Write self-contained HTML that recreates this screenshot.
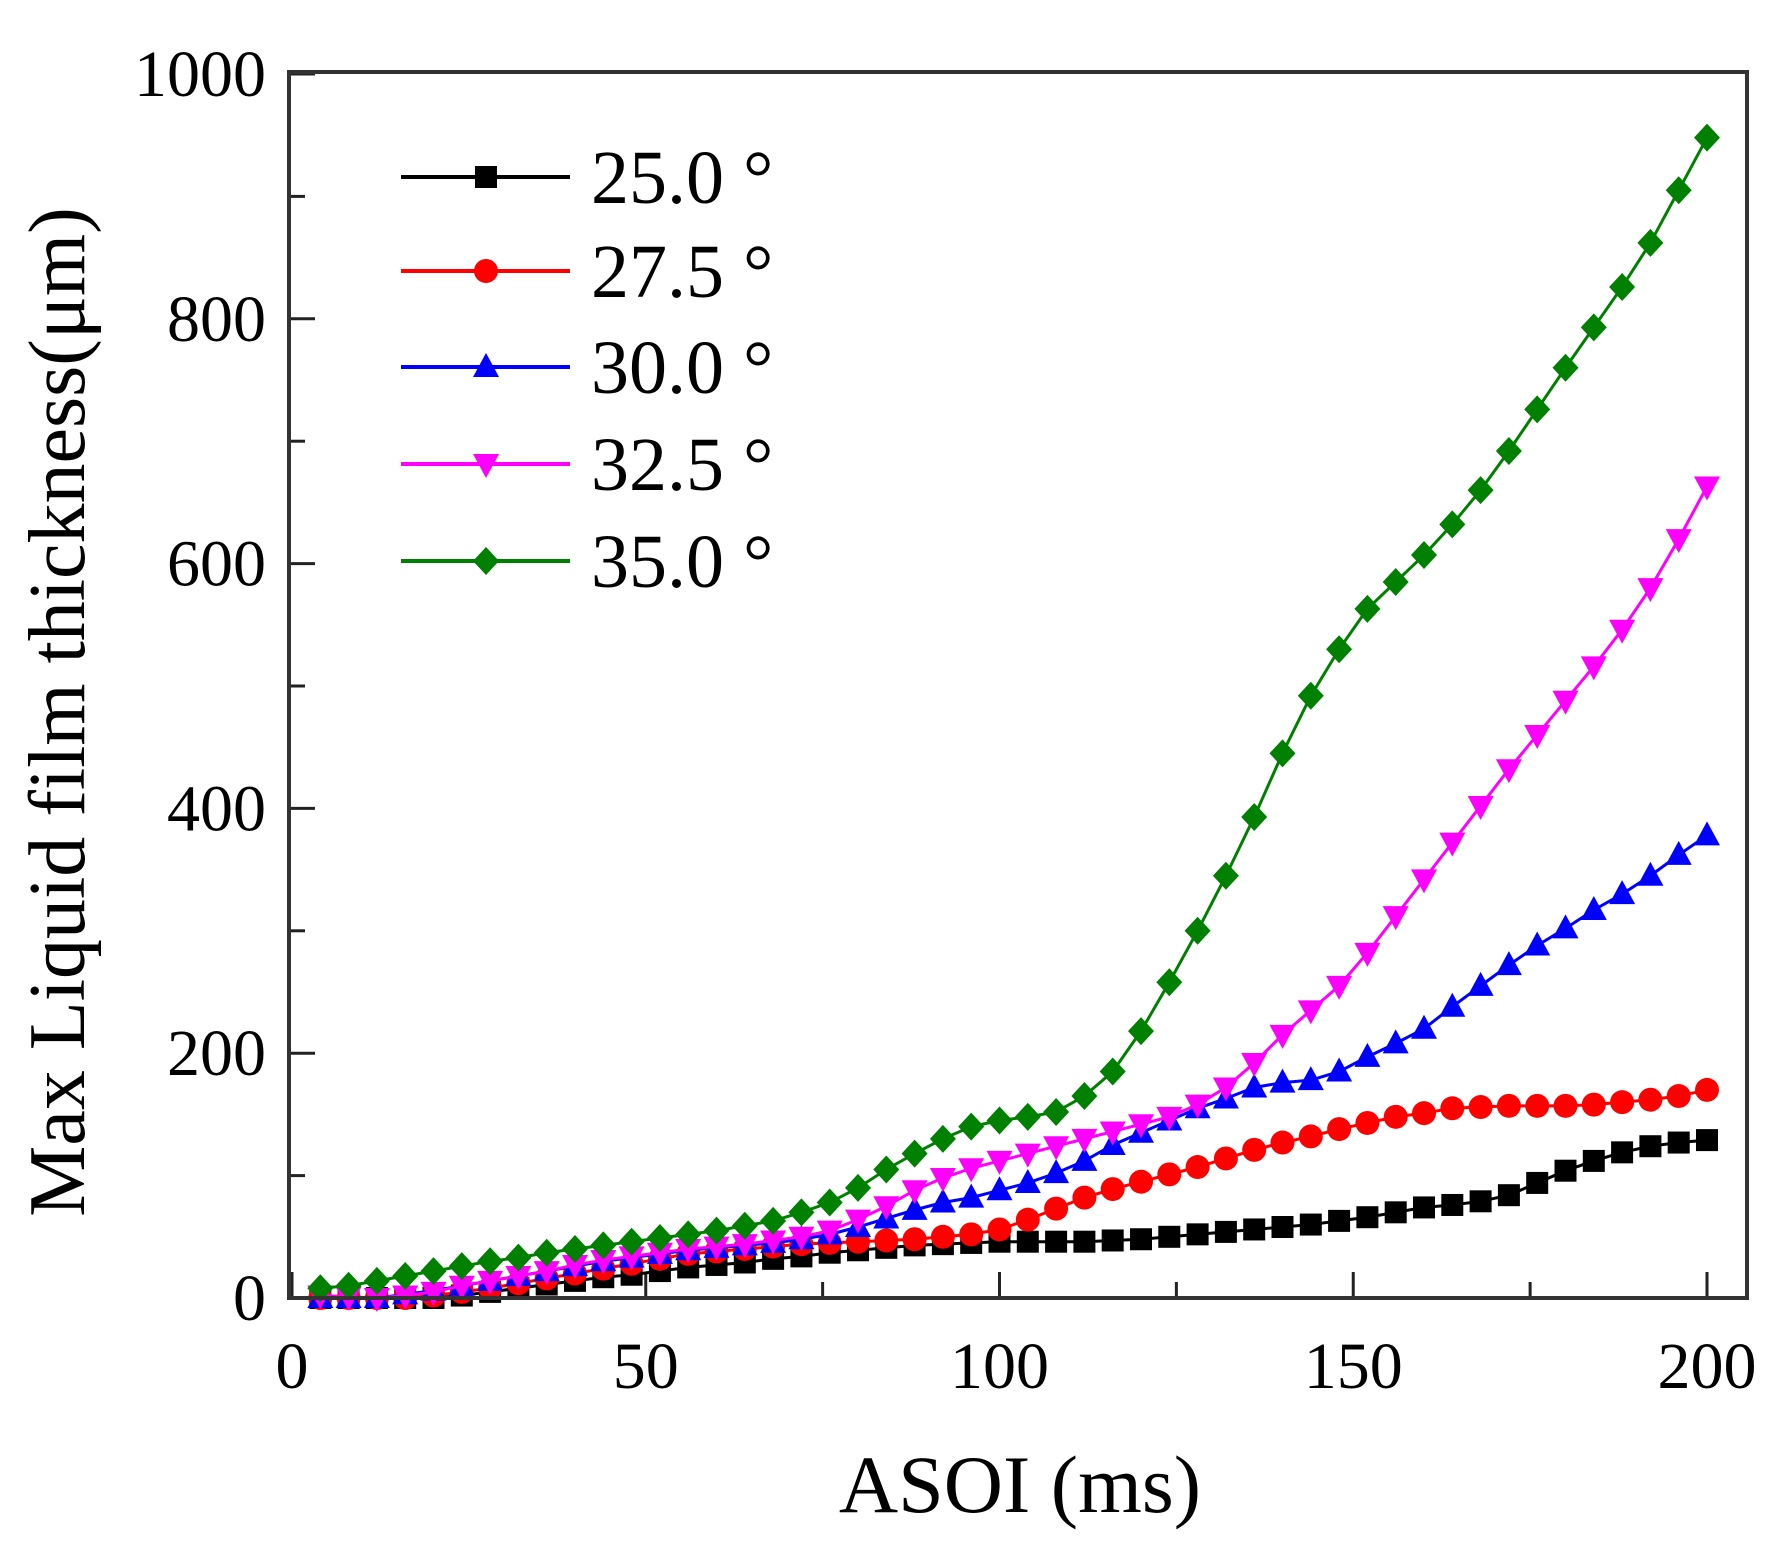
<!DOCTYPE html>
<html><head><meta charset="utf-8"><style>body{margin:0;background:#fff}svg{display:block}text{font-family:"Liberation Serif",serif}</style></head>
<body>
<svg id="c" width="1779" height="1546"></svg>
<script>
const xs=[];for(let i=1;i<=50;i++)xs.push(i*4);
const s25=[0,0,0,0,0,2,5,8,11,14,17,19,22,25,27,29,32,34,37,39,41,43,44,45,46,46,46,46,47,48,50,52,54,56,58,60,63,66,70,74,76,79,84,94,104,112,119,124,127,129];
const s275=[0,0,0,0,2,5,8,12,16,20,24,28,32,36,38,40,42,44,45,46,47,48,50,52,56,64,73,82,89,95,101,107,114,121,127,132,138,143,148,151,155,156,157,157,157,158,160,162,165,170];
const s30=[0,0,0,3,6,10,14,18,22,26,30,33,36,39,41,43,45,48,52,58,65,72,78,82,88,94,102,112,125,135,145,155,163,172,176,178,185,197,208,220,238,255,272,288,302,317,330,345,362,378];
const s325=[2,1,0,2,5,10,14,18,22,27,31,34,37,40,42,44,47,50,55,64,75,88,98,106,112,118,124,130,136,142,148,158,172,192,215,235,255,282,312,342,372,402,432,460,488,516,546,580,620,663];
const s35=[8,10,14,18,22,26,30,33,37,40,43,46,49,52,55,59,63,70,78,90,105,118,130,140,145,148,152,165,185,218,258,300,345,393,445,492,530,563,585,607,632,660,692,726,760,793,826,862,905,948];
const labels=["25.0 °","27.5 °","30.0 °","32.5 °","35.0 °"];
const xTicks=[0,50,100,150,200];
const yTicks=[0,200,400,600,800,1000];
const series=[s25,s275,s30,s325,s35];
const colors=["#000","#f00","#00f","#f0f","#008000"];
const shapes=["square","circle","up","down","diamond"];
const NS="http://www.w3.org/2000/svg";
const svg=document.getElementById('c');
const X=v=>292+(v/200)*1415;
const Y=v=>1298-(v/1000)*1224;
function el(t,a,p){const e=document.createElementNS(NS,t);for(const k in a)e.setAttribute(k,a[k]);(p||svg).appendChild(e);return e;}
function marker(shape,x,y,c,g){
  const r=12;let e;
  if(shape==="square")e=el('rect',{x:x-r+1,y:y-r+1,width:2*r-2,height:2*r-2,fill:c},g);
  else if(shape==="circle")e=el('circle',{cx:x,cy:y,r:r,fill:c},g);
  else if(shape==="up")e=el('polygon',{points:`${x},${y-r-2} ${x-r-1},${y+r-2} ${x+r+1},${y+r-2}`,fill:c},g);
  else if(shape==="down")e=el('polygon',{points:`${x},${y+r+2} ${x-r-1},${y-r+2} ${x+r+1},${y-r+2}`,fill:c},g);
  else e=el('polygon',{points:`${x},${y-r-2} ${x+r+1},${y} ${x},${y+r+2} ${x-r-1},${y}`,fill:c},g);
  return e;
}
for(let v=0;v<=200;v+=25){const x=X(v);const t=el('line',{x1:x,x2:x,y1:1298,y2:v%50?1282:1272,stroke:'#222','stroke-width':3});
}
for(let v=0;v<=1000;v+=100){const y=Y(v);const t=el('line',{x1:289,x2:v%200?305:315,y1:y,y2:y,stroke:'#222','stroke-width':3});
}
xTicks.forEach(v=>{const t=el('text',{x:X(v),y:1388,'font-size':66,'text-anchor':'middle'});t.textContent=v;
});
yTicks.forEach(v=>{const t=el('text',{x:266,y:Y(v)+22,'font-size':66,'text-anchor':'end'});t.textContent=v;
});
series.forEach((s,i)=>{
  const g=el('g',{});
  
  
  el('polyline',{points:s.map((v,j)=>X(xs[j])+','+Y(v)).join(' '),fill:'none',stroke:colors[i],'stroke-width':3},g);
  s.forEach((v,j)=>{const m=marker(shapes[i],X(xs[j]),Y(v),colors[i],g);
  });
});
const f=el('rect',{x:289,y:72,width:1458,height:1226,fill:'none',stroke:'#333','stroke-width':4});

const lg=el('g',{});
const ly=[177,271,367,464,561];
labels.forEach((l,i)=>{
  const e=el('g',{},lg);
  el('line',{x1:401,x2:570,y1:ly[i],y2:ly[i],stroke:colors[i],'stroke-width':4},e);
  marker(shapes[i],486,ly[i],colors[i],e);
  const t=el('text',{x:591,y:ly[i]+26,'font-size':76},e);t.textContent=l;
});
const xt=el('text',{x:1020,y:1512,'font-size':82,'text-anchor':'middle'});xt.textContent='ASOI (ms)';

const yt=el('text',{x:0,y:0,'font-size':80,'text-anchor':'middle',transform:'translate(84,712) rotate(-90)'});
yt.textContent='Max Liquid film thickness(μm)';

</script>
</body></html>
